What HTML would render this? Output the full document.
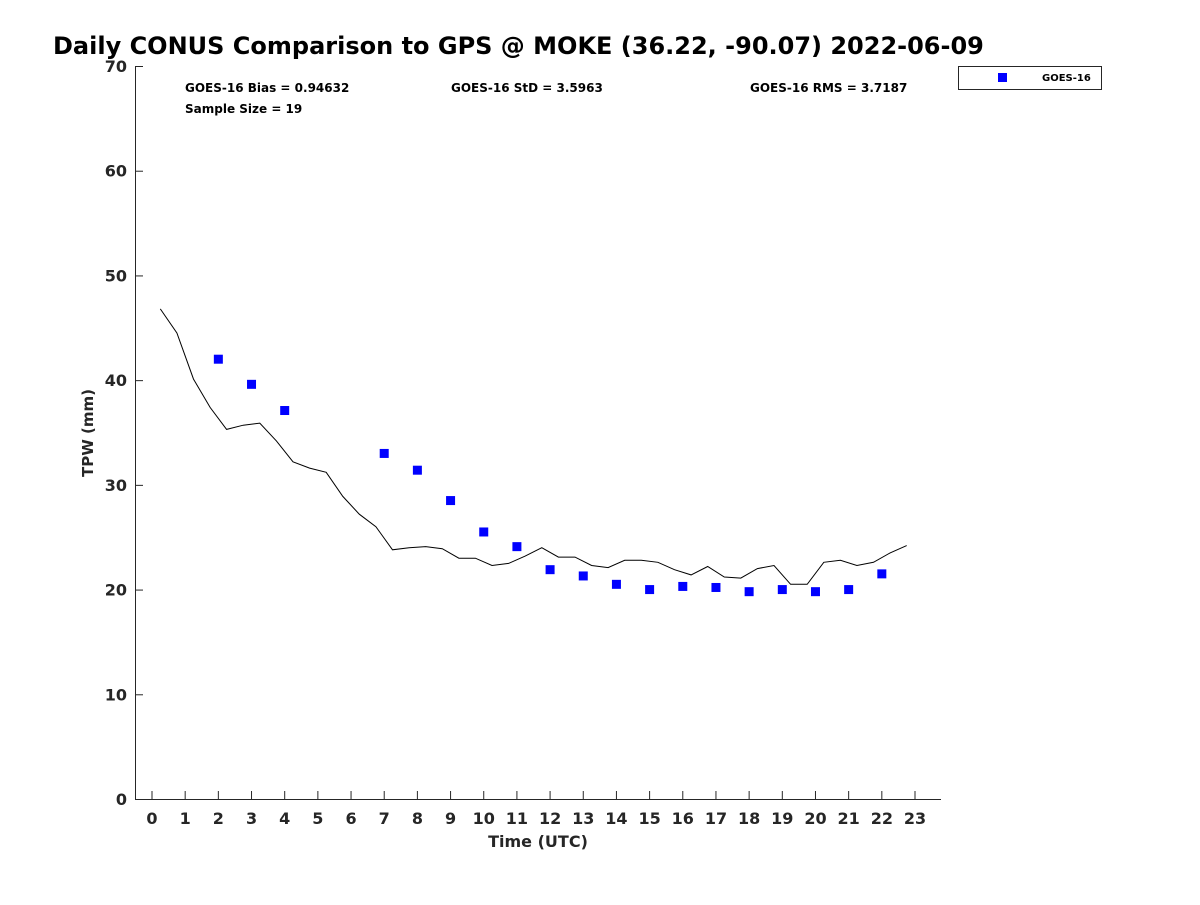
<!DOCTYPE html>
<html><head><meta charset="utf-8"><style>
body{margin:0;background:#fff;}
svg{font-family:"DejaVu Sans","Liberation Sans",sans-serif;}
</style></head><body>
<svg id="chart" width="1200" height="900">
<text x="53" y="54" font-size="24" font-weight="bold">Daily CONUS Comparison to GPS @ MOKE (36.22, -90.07) 2022-06-09</text>
<g id="axes"></g>
<text x="185" y="92" font-size="12" font-weight="bold">GOES-16 Bias = 0.94632</text>
<text x="451" y="92" font-size="12" font-weight="bold">GOES-16 StD = 3.5963</text>
<text x="750" y="92" font-size="12" font-weight="bold">GOES-16 RMS = 3.7187</text>
<text x="185" y="113" font-size="12" font-weight="bold">Sample Size = 19</text>
<text x="538" y="847" font-size="16" font-weight="bold" text-anchor="middle" fill="#262626">Time (UTC)</text>
<text transform="translate(93,433) rotate(-90)" font-size="15" font-weight="bold" text-anchor="middle" fill="#262626">TPW (mm)</text>
<g>
<rect x="958.5" y="66.5" width="143" height="23" fill="#fff" stroke="#262626" stroke-width="1"/>
<rect x="998" y="73" width="9" height="9" fill="#0000ff"/>
<text x="1042" y="81" font-size="10" font-weight="bold">GOES-16</text>
</g>
</svg>
<script>
const gpsValues=[46.8,44.5,40.1,37.4,35.3,35.7,35.9,34.2,32.2,31.6,31.2,28.9,27.2,26.0,23.8,24.0,24.1,23.9,23.0,23.0,22.3,22.5,23.2,24.0,23.1,23.1,22.3,22.1,22.8,22.8,22.6,21.9,21.4,22.2,21.2,21.1,22.0,22.3,20.5,20.5,22.6,22.8,22.3,22.6,23.5,24.2];
const gpsStart=0.25, gpsStep=0.5;
const goesHours=[2,3,4,7,8,9,10,11,12,13,14,15,16,17,18,19,20,21,22];
const goesValues=[42.0,39.6,37.1,33.0,31.4,28.5,25.5,24.1,21.9,21.3,20.5,20.0,20.3,20.2,19.8,20.0,19.8,20.0,21.5];
const xTicks=[0,1,2,3,4,5,6,7,8,9,10,11,12,13,14,15,16,17,18,19,20,21,22,23];
const yTicks=[0,10,20,30,40,50,60,70];
const NS='http://www.w3.org/2000/svg';
const svg=document.getElementById('chart');
const g=document.getElementById('axes');
const L=135,R=941,T=66,B=799;
const X=h=>152+h*(915-152)/23;
const Y=v=>B-v*(B-T)/70;
function mk(tag,attrs,parent){const e=document.createElementNS(NS,tag);for(const k in attrs)e.setAttribute(k,attrs[k]);(parent||g).appendChild(e);return e;}
let ax=mk('path',{d:`M${L+.5},${T}V${B+.5}H${R}`,stroke:'#262626',fill:'none','stroke-width':1});


xTicks.forEach(t=>{
 const l=mk('line',{x1:X(t),x2:X(t),y1:B,y2:B-8,stroke:'#262626'});
 
 
 const tx=mk('text',{x:X(t),y:B+25,'font-size':16,'font-weight':'bold','text-anchor':'middle',fill:'#262626'});
 tx.textContent=t;
 
 
});
yTicks.forEach(t=>{
 const l=mk('line',{x1:L,x2:L+8,y1:Y(t)+.5,y2:Y(t)+.5,stroke:'#262626'});
 
 
 const tx=mk('text',{x:L-8,y:Y(t)+6,'font-size':16,'font-weight':'bold','text-anchor':'end',fill:'#262626'});
 tx.textContent=t;
 
 
});
const pts=gpsValues.map((v,i)=>X(gpsStart+i*gpsStep).toFixed(1)+','+Y(v).toFixed(1)).join(' ');
const pl=mk('polyline',{points:pts,fill:'none',stroke:'#000','stroke-width':1});


goesHours.forEach((h,i)=>{
 const r=mk('rect',{x:X(h)-4.5,y:Y(goesValues[i])-4.5,width:9,height:9,fill:'#0000ff'});
 
 
});
</script>
</body></html>
